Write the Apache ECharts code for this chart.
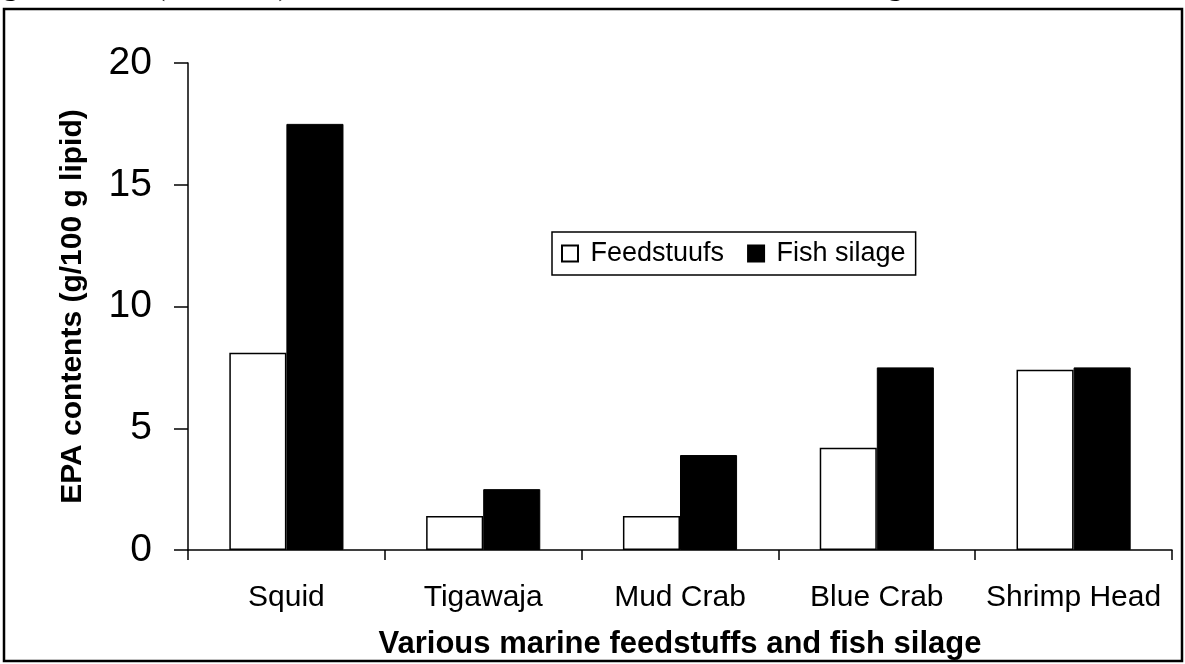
<!DOCTYPE html>
<html>
<head>
<meta charset="utf-8">
<script src="https://cdn.jsdelivr.net/npm/echarts@6/dist/echarts.min.js"></script>
<style>html,body{margin:0;padding:0;background:#fff}#c{width:1185px;height:664px}</style>
</head>
<body>
<div id="c"></div>
<script>
const categories = ['Squid', 'Tigawaja', 'Mud Crab', 'Blue Crab', 'Shrimp Head'];
const feedstuffs = [8.1, 1.4, 1.4, 4.2, 7.4];
const fishSilage = [17.5, 2.5, 3.9, 7.5, 7.5];
const seriesNames = ['Feedstuufs', 'Fish silage'];
const yTicks = { min: 0, max: 20, interval: 5 };
const yTitle = 'EPA contents (g/100 g lipid)';
const xTitle = 'Various marine feedstuffs and fish silage';
const captionText = 'Figure 4. EPA (C20:5n-3) Content of various marine feedstuffs and fish silage';

const chart = echarts.init(document.getElementById('c'), null, { renderer: 'canvas' });
const sans = 'Liberation Sans, Arial, sans-serif';
chart.setOption({
  animation: false,
  backgroundColor: '#fff',
  grid: { left: 188, right: 13, top: 63, bottom: 114, containLabel: false, outerBoundsMode: 'none' },
  legend: {
    left: 552, top: 232,
    orient: 'horizontal',
    data: seriesNames,
    icon: 'rect',
    itemWidth: 16, itemHeight: 16,
    itemGap: 23,
    formatter: ' {name}',
    borderColor: '#000', borderWidth: 1.5,
    padding: [8, 10, 8, 9],
    textStyle: { fontFamily: sans, fontSize: 27, color: '#000' },
    selectedMode: false
  },
  xAxis: {
    type: 'category',
    data: categories,
    axisLine: { lineStyle: { color: '#000', width: 1.5 } },
    axisTick: { show: true, length: 10, lineStyle: { color: '#000', width: 1.5 } },
    axisLabel: { fontFamily: sans, fontSize: 30, color: '#000', margin: 33, interval: 0 },
    name: xTitle,
    nameLocation: 'middle',
    nameGap: 79,
    nameTextStyle: { fontFamily: sans, fontSize: 31, fontWeight: 'bold', color: '#000' }
  },
  yAxis: {
    type: 'value',
    min: yTicks.min, max: yTicks.max, interval: yTicks.interval,
    axisLine: { show: true, lineStyle: { color: '#000', width: 1.5 } },
    axisTick: { show: true, length: 14, lineStyle: { color: '#000', width: 1.5 } },
    splitLine: { show: false },
    axisLabel: { fontFamily: sans, fontSize: 39, color: '#000', margin: 36 },
    name: yTitle,
    nameLocation: 'middle',
    nameRotate: 90,
    nameGap: 100,
    nameTextStyle: { fontFamily: sans, fontSize: 30, fontWeight: 'bold', color: '#000' }
  },
  series: [
    {
      name: seriesNames[0], type: 'bar', data: feedstuffs,
      barGap: '0%', barCategoryGap: '42%',
      itemStyle: { color: '#fff', borderColor: '#000', borderWidth: 1.5 }
    },
    {
      name: seriesNames[1], type: 'bar', data: fishSilage,
      barGap: '0%', barCategoryGap: '42%',
      itemStyle: { color: '#000', borderColor: '#000', borderWidth: 1 }
    }
  ],
  graphic: [
    {
      type: 'text', left: -22, top: -28, z: 50,
      style: { text: captionText, font: '30px "Liberation Serif", serif', fill: '#000' }
    },
    {
      type: 'rect', z: 100,
      shape: { x: 4, y: 9, width: 1178, height: 652 },
      style: { fill: 'none', stroke: '#000', lineWidth: 2.5 }
    }
  ]
});
</script>
</body>
</html>
